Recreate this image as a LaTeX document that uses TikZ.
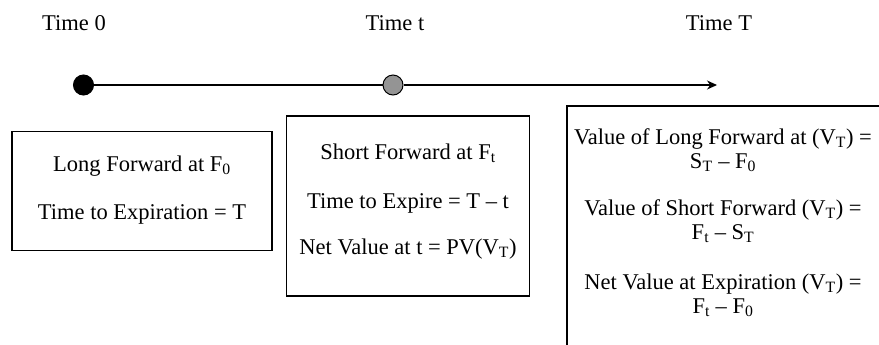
\documentclass[tikz,border=0pt]{standalone}
\usepackage{fontspec}
\setmainfont{Liberation Serif}
\usetikzlibrary{arrows.meta}
\newcommand{\sbs}[1]{\textsubscript{#1}}
\begin{document}
\begin{tikzpicture}[x=1bp,y=-1bp,
  txt/.style={font=\fontsize{22.5bp}{24bp}\selectfont, inner sep=0pt, anchor=base},
  box/.style={draw=black, line width=1.1bp, inner sep=0pt},
  dot/.style={circle, draw=black, line width=1bp, minimum size=20bp, inner sep=0pt}]
\useasboundingbox (0,0) rectangle (879,344);
\clip (0,0) rectangle (879,344);
% time labels
\node[txt] (l0) at (74,30) {Time 0};
\node[txt] (lt) at (395,30) {Time t};
\node[txt] (lT) at (719,30) {Time T};
% timeline
\node[dot, fill=black] (d0) at (83.5,85) {};
\node[dot, fill=black!42] (dt) at (393,85) {};
\coordinate (end) at (717,85);
\draw[line width=1.1bp] (d0) -- (dt);
\draw[line width=1.1bp, -{Stealth[length=10bp,width=9bp]}] (dt) -- (end);
% boxes
\node[box, minimum width=260bp, minimum height=119bp] (b1) at (142,191) {};
\node[box, minimum width=243bp, minimum height=180bp] (b2) at (408,206) {};
\node[box, minimum width=330bp, minimum height=260bp] (b3) at (732,236) {};
% box 1 text
\node[txt] (t11) at (142,171) {Long Forward at F\sbs{0}};
\node[txt] (t12) at (142,219) {Time to Expiration = T};
% box 2 text
\node[txt] (t21) at (408,159) {Short Forward at F\sbs{t}};
\node[txt] (t22) at (408,208) {Time to Expire = T -- t};
\node[txt] (t23) at (408,254) {Net Value at t = PV(V\sbs{T})};
% box 3 text
\node[txt] (t31a) at (723,144) {Value of Long Forward at (V\sbs{T}) =};
\node[txt] (t31b) at (723,168) {S\sbs{T} -- F\sbs{0}};
\node[txt] (t32a) at (723,215) {Value of Short Forward (V\sbs{T}) =};
\node[txt] (t32b) at (723,239) {F\sbs{t} -- S\sbs{T}};
\node[txt] (t33a) at (723,289) {Net Value at Expiration (V\sbs{T}) =};
\node[txt] (t33b) at (723,313) {F\sbs{t} -- F\sbs{0}};
\end{tikzpicture}
\end{document}
